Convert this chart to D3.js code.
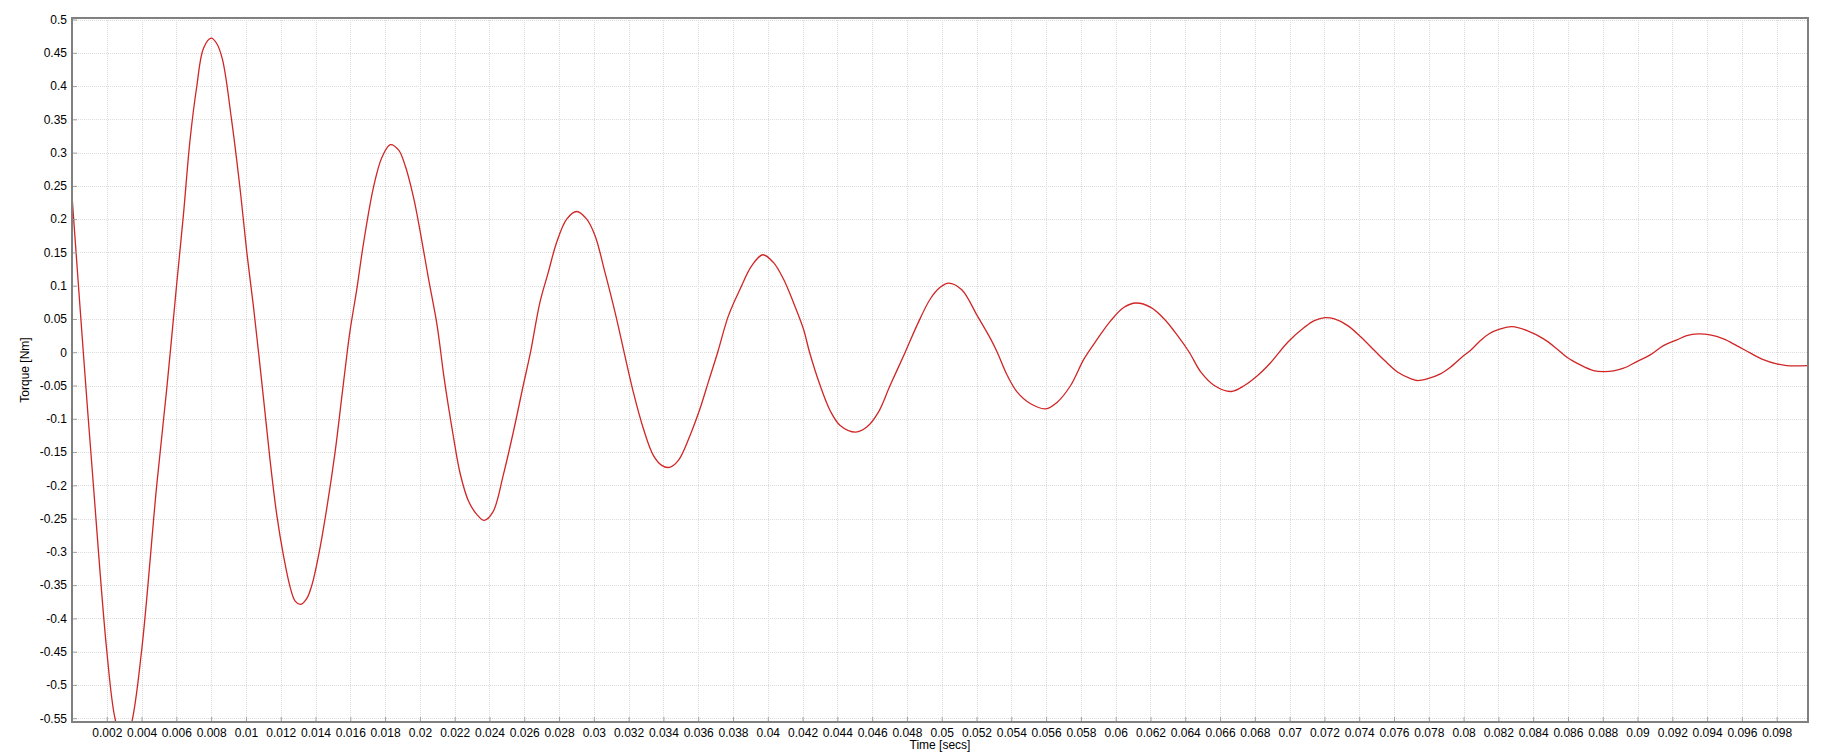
<!DOCTYPE html>
<html>
<head>
<meta charset="utf-8">
<script src="https://cdn.jsdelivr.net/npm/d3@7"></script>
<style>
  html, body { margin: 0; padding: 0; background: #fff; }
  svg { display: block; }
  text { font-family: Arial, "Liberation Sans", sans-serif; fill: #000; }
</style>
</head>
<body>
<svg id="chart" width="1835" height="754"></svg>
<script>
// ---- data ----
const timeSecs = [
  0, 0.00065, 0.00123, 0.002, 0.00247, 0.00295, 0.0034, 0.004, 0.00487, 0.00545,
  0.00602, 0.0064, 0.00679, 0.00717, 0.00756, 0.008, 0.00832, 0.00865, 0.00918,
  0.00966, 0.01005, 0.01043, 0.011, 0.01139, 0.01177, 0.01216, 0.01254, 0.01283,
  0.01315, 0.0135, 0.01379, 0.01417, 0.01465, 0.01513, 0.01551, 0.01582, 0.016, 0.01638,
  0.01676, 0.01734, 0.01782, 0.0183, 0.01877, 0.01916, 0.01964, 0.02002, 0.0205, 0.02098,
  0.0212, 0.02136, 0.02194, 0.02232, 0.0228, 0.02328, 0.0237, 0.0242, 0.02479, 0.02537,
  0.02594, 0.02636, 0.0269, 0.02738, 0.02786, 0.02844, 0.02901, 0.02959, 0.03007, 0.03064,
  0.03122, 0.03227, 0.03285, 0.03342, 0.0339, 0.03434, 0.03486, 0.03553, 0.0361,
  0.03658, 0.03712, 0.03774, 0.03841, 0.03908, 0.03971, 0.04032, 0.0409, 0.04147, 0.04205,
  0.0424, 0.04301, 0.04358, 0.04416, 0.04506, 0.04569, 0.04636, 0.04703, 0.0479, 0.04857,
  0.04934, 0.04991, 0.05039, 0.05115, 0.05204, 0.05281, 0.05319, 0.05377, 0.05434, 0.05511,
  0.05597, 0.05664, 0.05741, 0.05818, 0.05895, 0.05972, 0.06048, 0.06116, 0.06202, 0.06279,
  0.06356, 0.06423, 0.0649, 0.06567, 0.06663, 0.0674, 0.06816, 0.06893, 0.06989, 0.07085,
  0.07142, 0.07204, 0.07258, 0.07334, 0.07411, 0.07488, 0.07546, 0.07622, 0.07699, 0.07733,
  0.0779, 0.07867, 0.07924, 0.08001, 0.08039, 0.08097, 0.08145, 0.08211, 0.08279, 0.08365,
  0.0846, 0.08537, 0.08594, 0.08671, 0.08747, 0.08805, 0.08862, 0.0892, 0.08996, 0.09073,
  0.09149, 0.09226, 0.09283, 0.0935, 0.09417, 0.09494, 0.0957, 0.09647, 0.09723, 0.098,
  0.09857, 0.0998
];
const torqueNm = [
  0.235, 0, -0.2, -0.449, -0.55, -0.59, -0.56, -0.449, -0.2, -0.054,
  0.103, 0.205, 0.32, 0.399, 0.457, 0.472, 0.464, 0.44, 0.348,
  0.246, 0.15, 0.069, -0.067, -0.163, -0.244, -0.306, -0.353, -0.374,
  -0.379, -0.37, -0.35, -0.306, -0.234, -0.149, -0.067, 0, 0.035, 0.096,
  0.164, 0.249, 0.293, 0.312, 0.304, 0.28, 0.232, 0.181, 0.11, 0.042,
  0, -0.033, -0.129, -0.183, -0.224, -0.244, -0.2526, -0.24, -0.185, -0.12,
  -0.05, 0, 0.075, 0.12, 0.165, 0.2, 0.2115, 0.2, 0.175, 0.12,
  0.06, -0.06, -0.115, -0.155, -0.17, -0.173, -0.1625, -0.125, -0.085,
  -0.045, 0, 0.055, 0.095, 0.13, 0.1465, 0.135, 0.11, 0.075, 0.035,
  0, -0.05, -0.0875, -0.11, -0.12, -0.1125, -0.09, -0.05, 0, 0.04,
  0.08, 0.0975, 0.104, 0.094, 0.055, 0.02, 0, -0.035, -0.06, -0.0775,
  -0.085, -0.075, -0.05, -0.01, 0.02, 0.0475, 0.0675, 0.074, 0.0675, 0.05,
  0.025, 0, -0.03, -0.05, -0.059, -0.05, -0.035, -0.015, 0.015, 0.0375,
  0.0475, 0.052, 0.05, 0.04, 0.0225, 0.0025, -0.0125, -0.03, -0.04, -0.0425,
  -0.04, -0.0325, -0.0225, -0.005, 0.0025, 0.0175, 0.0275, 0.035, 0.0385, 0.0325,
  0.02, 0.005, -0.0075, -0.019, -0.0275, -0.029, -0.028, -0.024, -0.014, -0.004,
  0.01, 0.0185, 0.025, 0.0275, 0.026, 0.02, 0.01, -0.001, -0.011, -0.0175,
  -0.02, -0.02
];
const xTicks = d3.range(1, 50).map(i => +(i * 0.002).toFixed(3));   // 0.002 ... 0.098
const yTicks = d3.range(-11, 11).map(i => +(i * 0.05).toFixed(2));  // -0.55 ... 0.5
const xDomain = [0, 0.0998];
const yDomain = [-0.5557, 0.5023];
const xTitle = "Time [secs]";
const yTitle = "Torque [Nm]";

// ---- layout ----
const L = 72, R = 1808, T = 18, B = 722;
const svg = d3.select("#chart");
const x = d3.scaleLinear().domain(xDomain).range([L, R]);
const y = d3.scaleLinear().domain(yDomain).range([B, T]);

svg.append("rect").attr("width", 1835).attr("height", 754).attr("fill", "#fff");

// grid
const grid = svg.append("g");
grid.selectAll("line.gx").data(xTicks).join("line")
  .attr("x1", d => Math.round(x(d)) + 0.5).attr("x2", d => Math.round(x(d)) + 0.5)
  .attr("y1", T).attr("y2", B)
  .attr("stroke", "#dcdcdc").attr("stroke-width", 1).attr("stroke-dasharray", "1,1");
grid.selectAll("line.gy").data(yTicks).join("line")
  .attr("y1", d => Math.round(y(d)) + 0.5).attr("y2", d => Math.round(y(d)) + 0.5)
  .attr("x1", L).attr("x2", R)
  .attr("stroke", "#dcdcdc").attr("stroke-width", 1).attr("stroke-dasharray", "1,1");

// clip
svg.append("clipPath").attr("id", "clip").append("rect")
  .attr("x", L).attr("y", T).attr("width", R - L).attr("height", B - T);

// line
const pts = timeSecs.map((t, i) => [t, torqueNm[i]]);
svg.append("path")
  .datum(pts)
  .attr("clip-path", "url(#clip)")
  .attr("fill", "none")
  .attr("stroke", "#d02626")
  .attr("stroke-width", 1.3)
  .attr("d", d3.line().x(d => x(d[0])).y(d => y(d[1])).curve(d3.curveCatmullRom.alpha(0.5)));

// axes (inward ticks)
const xAxis = d3.axisBottom(x).tickValues(xTicks).tickSize(-5).tickPadding(6)
  .tickFormat(d => String(+d.toFixed(3)));
const yAxis = d3.axisLeft(y).tickValues(yTicks).tickSize(-5).tickPadding(5)
  .tickFormat(d => String(+d.toFixed(2)));

const gx = svg.append("g").attr("transform", `translate(0,${B})`).call(xAxis);
const gy = svg.append("g").attr("transform", `translate(${L},0)`).call(yAxis);
[gx, gy].forEach(g => {
  g.select(".domain").remove();
  g.selectAll(".tick line").attr("stroke", "#a0a0a0").attr("stroke-width", 1);
  g.selectAll(".tick text").attr("font-size", 12).attr("fill", "#000")
    .style("font-family", "Arial, 'Liberation Sans', sans-serif");
});

// frame
svg.append("rect").attr("x", L).attr("y", T).attr("width", R - L).attr("height", B - T)
  .attr("fill", "none").attr("stroke", "#808080").attr("stroke-width", 2);

// titles
svg.append("text").attr("x", (L + R) / 2).attr("y", 749).attr("text-anchor", "middle")
  .attr("font-size", 12).text(xTitle);
svg.append("text").attr("transform", `translate(29,${(T + B) / 2}) rotate(-90)`)
  .attr("text-anchor", "middle").attr("font-size", 12).text(yTitle);
</script>
</body>
</html>
